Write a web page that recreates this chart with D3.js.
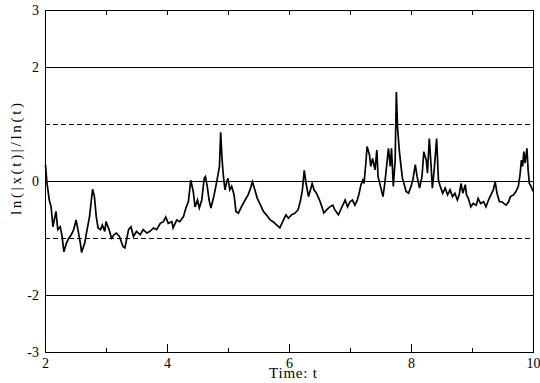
<!DOCTYPE html>
<html>
<head>
<meta charset="utf-8">
<script src="https://cdn.jsdelivr.net/npm/d3@7"></script>
<style>
  body { margin: 0; background: #ffffff; }
  svg { display: block; font-family: "Liberation Serif", "DejaVu Serif", serif; }
</style>
</head>
<body>
<svg id="chart" width="540" height="383"></svg>
<script>
// time axis values (t)
const timeValues = [
  2.008, 2.03, 2.07, 2.10, 2.13, 2.18, 2.21, 2.25, 2.28, 2.31,
  2.35, 2.39, 2.43, 2.47, 2.51, 2.54, 2.58, 2.60, 2.65, 2.69,
  2.73, 2.76, 2.78, 2.81, 2.84, 2.87, 2.91, 2.94, 2.98, 3.00,
  3.05, 3.09, 3.13, 3.17, 3.22, 3.28, 3.31, 3.37, 3.41, 3.45,
  3.50, 3.56, 3.61, 3.67, 3.72, 3.78, 3.83, 3.89, 3.94, 3.98,
  4.02, 4.08, 4.10, 4.16, 4.21, 4.27, 4.31, 4.35, 4.39, 4.43,
  4.46, 4.50, 4.53, 4.57, 4.61, 4.63, 4.66, 4.69, 4.72, 4.76,
  4.79, 4.82, 4.86, 4.88, 4.90, 4.92, 4.95, 4.98, 5.00, 5.03,
  5.06, 5.10, 5.13, 5.17, 5.22, 5.28, 5.33, 5.37, 5.40, 5.44,
  5.48, 5.52, 5.58, 5.63, 5.69, 5.74, 5.80, 5.85, 5.91, 5.95,
  5.99, 6.04, 6.10, 6.15, 6.19, 6.22, 6.25, 6.28, 6.32, 6.36,
  6.38, 6.41, 6.45, 6.50, 6.54, 6.57, 6.62, 6.67, 6.72, 6.75,
  6.81, 6.86, 6.92, 6.96, 7.00, 7.04, 7.08, 7.12, 7.15, 7.18,
  7.21, 7.23, 7.26, 7.28, 7.32, 7.34, 7.37, 7.41, 7.44, 7.46,
  7.50, 7.54, 7.57, 7.60, 7.63, 7.66, 7.68, 7.71, 7.74, 7.76,
  7.78, 7.81, 7.84, 7.86, 7.89, 7.92, 7.96, 8.00, 8.03, 8.07,
  8.10, 8.14, 8.18, 8.21, 8.25, 8.27, 8.30, 8.33, 8.35, 8.38,
  8.42, 8.45, 8.48, 8.52, 8.56, 8.60, 8.64, 8.68, 8.72, 8.76,
  8.79, 8.82, 8.85, 8.89, 8.91, 8.94, 8.98, 9.02, 9.07, 9.10,
  9.14, 9.19, 9.23, 9.27, 9.31, 9.35, 9.38, 9.41, 9.45, 9.49,
  9.52, 9.56, 9.60, 9.63, 9.68, 9.72, 9.76, 9.79, 9.81, 9.83,
  9.85, 9.87, 9.90, 9.92, 9.94, 9.97, 10.00
];

// ln(|x(t)|)/ln(t) values, same order as timeValues
const ratioValues = [
  0.29, -0.01, -0.33, -0.45, -0.80, -0.53, -0.85, -0.80, -0.97, -1.24,
  -1.09, -1.00, -0.94, -0.85, -0.68, -0.85, -1.09, -1.25, -1.09, -0.85,
  -0.62, -0.33, -0.14, -0.27, -0.62, -0.82, -0.85, -0.77, -0.88, -0.71,
  -0.85, -1.00, -0.94, -0.91, -0.97, -1.15, -1.17, -0.85, -0.80, -0.97,
  -0.88, -0.94, -0.85, -0.91, -0.88, -0.82, -0.85, -0.74, -0.71, -0.63,
  -0.74, -0.71, -0.82, -0.68, -0.71, -0.62, -0.47, -0.36, 0.02, -0.18,
  -0.45, -0.33, -0.47, -0.33, 0.05, 0.08, -0.09, -0.33, -0.47, -0.30,
  -0.15, 0.02, 0.26, 0.86, 0.43, 0.14, -0.15, -0.01, 0.05, -0.15,
  -0.09, -0.24, -0.53, -0.56, -0.45, -0.33, -0.24, -0.12, -0.01, -0.15,
  -0.30, -0.39, -0.53, -0.59, -0.68, -0.71, -0.77, -0.82, -0.68, -0.59,
  -0.65, -0.59, -0.56, -0.50, -0.33, -0.15, 0.19, -0.04, -0.27, -0.12,
  -0.04, -0.15, -0.21, -0.33, -0.45, -0.56, -0.50, -0.45, -0.42, -0.50,
  -0.59, -0.47, -0.33, -0.45, -0.36, -0.33, -0.42, -0.33, -0.21, -0.06,
  0.02, -0.04, 0.32, 0.61, 0.46, 0.26, 0.40, 0.20, 0.55, 0.08,
  -0.09, -0.27, -0.04, 0.26, 0.58, 0.26, 0.58, -0.09, 0.37, 1.57,
  0.93, 0.52, 0.23, 0.05, -0.06, -0.18, -0.21, -0.09, 0.02, 0.29,
  0.08, -0.12, 0.08, 0.52, 0.37, 0.14, 0.75, 0.26, -0.12, 0.20,
  0.75, 0.02, -0.09, -0.21, -0.12, -0.24, -0.15, -0.27, -0.21, -0.33,
  -0.24, -0.04, -0.21, -0.06, -0.24, -0.30, -0.45, -0.39, -0.42, -0.30,
  -0.39, -0.36, -0.45, -0.33, -0.24, -0.15, -0.01, -0.21, -0.36, -0.36,
  -0.39, -0.42, -0.36, -0.27, -0.24, -0.18, -0.09, 0.14, 0.37, 0.26,
  0.52, 0.32, 0.58, 0.20, -0.04, -0.09, -0.18
];

const xMajorTicks = [2, 4, 6, 8, 10];
const xMinorTicks = [3, 5, 7, 9];
const yTickLabels = [3, 2, 0, -2, -3];
const solidLevels = [-2, 0, 2];
const dashedLevels = [-1, 1];

const svg = d3.select('#chart');
const margin = { top: 10.5, right: 7, bottom: 31, left: 45 };
const innerWidth = 540 - margin.left - margin.right;
const innerHeight = 383 - margin.top - margin.bottom;

const xScale = d3.scaleLinear().domain([2, 10]).range([0, innerWidth]);
const yScale = d3.scaleLinear().domain([-3, 3]).range([innerHeight, 0]);

// plain hyphen for negatives, like the original
const plainNumber = d => String(d);

const g = svg.append('g')
  .attr('transform', `translate(${margin.left}, ${margin.top})`);

// horizontal reference lines: solid at 0, +-2, dashed at +-1
g.selectAll('.level-solid')
  .data(solidLevels)
  .enter()
  .append('line')
  .attr('class', 'level-solid')
  .attr('x1', 0).attr('x2', innerWidth)
  .attr('y1', d => yScale(d)).attr('y2', d => yScale(d))
  .attr('stroke', '#000').attr('stroke-width', 1)
  .attr('shape-rendering', 'crispEdges');

g.selectAll('.level-dashed')
  .data(dashedLevels)
  .enter()
  .append('line')
  .attr('class', 'level-dashed')
  .attr('x1', 0).attr('x2', innerWidth)
  .attr('y1', d => yScale(d)).attr('y2', d => yScale(d))
  .attr('stroke', '#000').attr('stroke-width', 1)
  .attr('stroke-dasharray', '5,3')
  .attr('shape-rendering', 'crispEdges');

// the series
const lineGenerator = d3.line()
  .x(d => xScale(d[0]))
  .y(d => yScale(d[1]));

g.append('path')
  .attr('d', lineGenerator(d3.zip(timeValues, ratioValues)))
  .attr('fill', 'none')
  .attr('stroke', '#000')
  .attr('stroke-width', 1.7);

// bottom axis, major ticks pointing inward
const xAxis = d3.axisBottom(xScale).tickValues(xMajorTicks)
  .tickSizeInner(-8).tickSizeOuter(0).tickPadding(6).tickFormat(plainNumber);
g.append('g').attr('transform', `translate(0, ${innerHeight})`).call(xAxis)
  .call(a => a.select('.domain').remove())
  .selectAll('.tick text').attr('font-size', 14).attr('fill', '#000');

// bottom minor ticks
g.append('g').attr('transform', `translate(0, ${innerHeight})`)
  .call(d3.axisBottom(xScale).tickValues(xMinorTicks).tickSizeInner(-4).tickSizeOuter(0))
  .call(a => a.select('.domain').remove())
  .call(a => a.selectAll('.tick text').remove());

// top ticks
g.append('g')
  .call(d3.axisTop(xScale).tickValues(xMajorTicks.concat(xMinorTicks)).tickSizeInner(-4).tickSizeOuter(0))
  .call(a => a.select('.domain').remove())
  .call(a => a.selectAll('.tick text').remove());

// left labels only, the grid lines take the place of ticks
g.append('g')
  .call(d3.axisLeft(yScale).tickValues(yTickLabels).tickSize(0).tickPadding(6).tickFormat(plainNumber))
  .call(a => a.select('.domain').remove())
  .selectAll('.tick text').attr('font-size', 14).attr('fill', '#000');

g.selectAll('.tick line').attr('stroke', '#000').attr('shape-rendering', 'crispEdges');
svg.selectAll('.tick text').attr('font-family', null);
svg.selectAll('g').attr('font-family', null);

// frame
g.append('rect')
  .attr('x', 0).attr('y', 0)
  .attr('width', innerWidth).attr('height', innerHeight)
  .attr('fill', 'none').attr('stroke', '#000').attr('stroke-width', 1)
  .attr('shape-rendering', 'crispEdges');

// axis titles
svg.append('text')
  .text('Time: t')
  .attr('x', margin.left + innerWidth / 2 + 4)
  .attr('y', 378)
  .attr('text-anchor', 'middle')
  .attr('font-size', 15)
  .attr('textLength', 48)
  .attr('lengthAdjust', 'spacing');

svg.append('text')
  .text('ln(|x(t)|/ln(t)')
  .attr('transform', 'translate(21, 159) rotate(-90)')
  .attr('text-anchor', 'middle')
  .attr('font-size', 15)
  .attr('textLength', 112)
  .attr('lengthAdjust', 'spacing');
</script>
</body>
</html>
